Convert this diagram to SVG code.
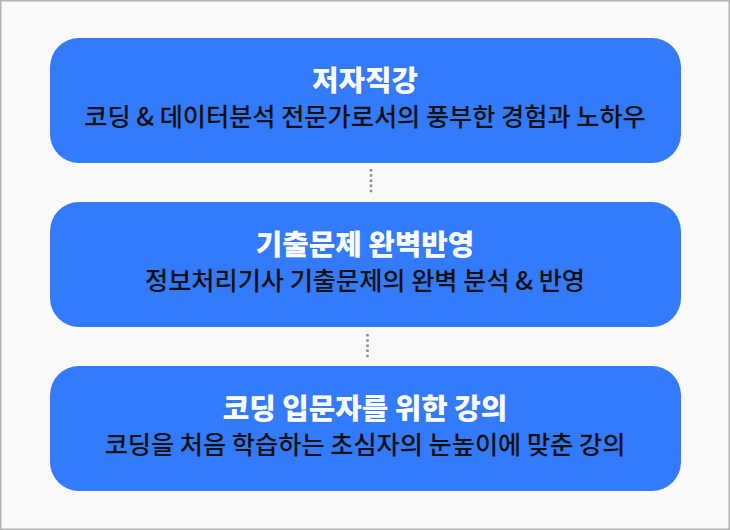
<svg xmlns="http://www.w3.org/2000/svg" width="730" height="530" viewBox="0 0 730 530">
<style>
.box{fill:#347AFC}
.t{font-family:"Noto Sans CJK KR","Noto Sans",sans-serif;font-weight:900;font-size:28.8px;fill:#ffffff;text-anchor:middle}
.s{font-family:"Noto Sans CJK KR","Noto Sans",sans-serif;font-weight:500;font-size:25.2px;fill:#111111;text-anchor:middle}
.c{stroke:#8a8a8a;stroke-width:2.5;stroke-dasharray:2.5 2.7;fill:none}
</style>
<rect x="0.75" y="0.75" width="728.5" height="528.5" fill="#fafafa" stroke="#b3b3b3" stroke-width="1.5"/>
<g id="connectors">
<line class="c" x1="371" y1="169" x2="371" y2="193"/>
<line class="c" x1="367.5" y1="334" x2="367.5" y2="358"/>
</g>
<g id="node1">
<rect class="box" x="50" y="38" width="631" height="125" rx="29"/>
<text class="t" x="365" y="90.7">저자직강</text>
<text class="s" x="365" y="125.8">코딩 &amp; 데이터분석 전문가로서의 풍부한 경험과 노하우</text>
</g>
<g id="node2">
<rect class="box" x="50" y="202" width="631" height="125" rx="29"/>
<text class="t" x="365" y="254.7">기출문제 완벽반영</text>
<text class="s" x="365" y="289.8">정보처리기사 기출문제의 완벽 분석 &amp; 반영</text>
</g>
<g id="node3">
<rect class="box" x="50" y="366" width="631" height="125" rx="29"/>
<text class="t" x="365" y="418.7">코딩 입문자를 위한 강의</text>
<text class="s" x="365" y="453.8">코딩을 처음 학습하는 초심자의 눈높이에 맞춘 강의</text>
</g>
</svg>
